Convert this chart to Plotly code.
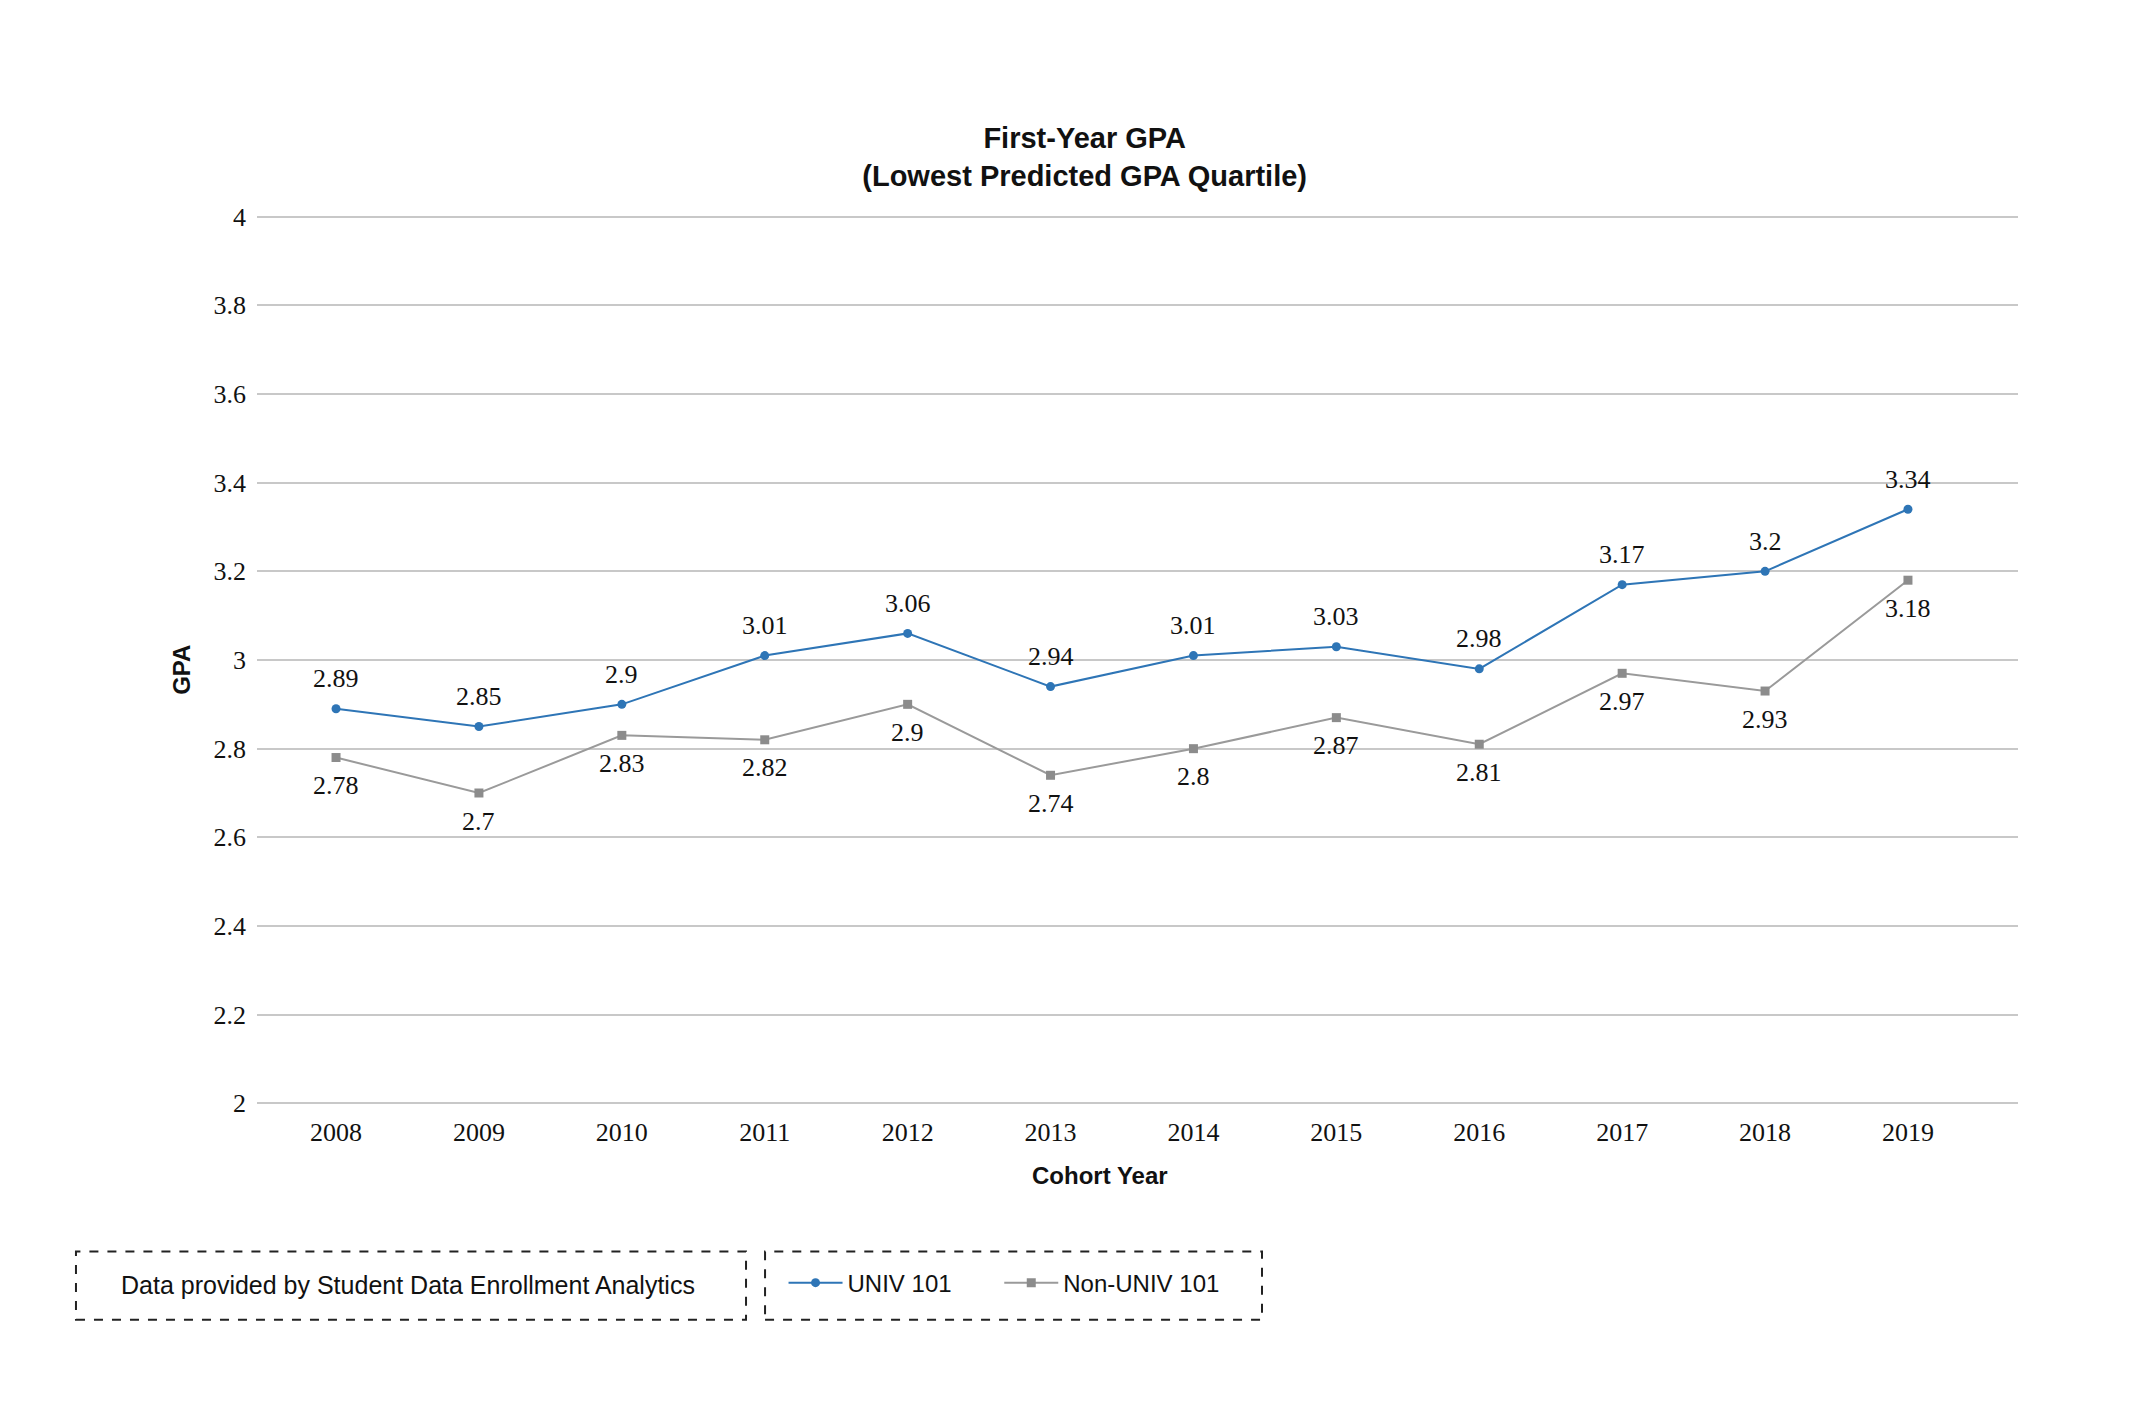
import plotly.graph_objects as go

years = ["2008", "2009", "2010", "2011", "2012", "2013", "2014", "2015", "2016", "2017", "2018", "2019"]
univ_101 = [2.89, 2.85, 2.9, 3.01, 3.06, 2.94, 3.01, 3.03, 2.98, 3.17, 3.2, 3.34]
non_univ_101 = [2.78, 2.7, 2.83, 2.82, 2.9, 2.74, 2.8, 2.87, 2.81, 2.97, 2.93, 3.18]
y_ticks = [2, 2.2, 2.4, 2.6, 2.8, 3, 3.2, 3.4, 3.6, 3.8, 4]

SERIF = "Georgia, 'Liberation Serif', serif"
SANS = "Arial, 'Liberation Sans', sans-serif"
BLUE = "#2E75B6"
GRAY = "#9A9A9A"
INK = "#111111"

W, H = 2117, 1407

fig = go.Figure()
fig.add_trace(go.Scatter(
    x=years, y=univ_101, name="UNIV 101", mode="lines+markers", legend="legend",
    line=dict(color=BLUE, width=2), marker=dict(symbol="circle", size=9, color=BLUE),
))
fig.add_trace(go.Scatter(
    x=years, y=non_univ_101, name="Non-UNIV 101", mode="lines+markers", legend="legend2",
    line=dict(color=GRAY, width=2), marker=dict(symbol="square", size=9, color="#8C8C8C"),
))

# data labels (category axis -> positions by category index)
for i, v in enumerate(univ_101):
    fig.add_annotation(x=i, y=v, text=f"{v:g}", showarrow=False, yshift=30,
                       xanchor="center", yanchor="middle",
                       font=dict(family=SERIF, size=26, color=INK))
for i, v in enumerate(non_univ_101):
    fig.add_annotation(x=i, y=v, text=f"{v:g}", showarrow=False, yshift=-28,
                       xanchor="center", yanchor="middle",
                       font=dict(family=SERIF, size=26, color=INK))

legend_style = dict(orientation="h", xref="paper", yref="paper", y=-0.1985,
                    xanchor="left", yanchor="middle", bgcolor="rgba(0,0,0,0)",
                    font=dict(family=SANS, size=24, color=INK), itemwidth=54)

fig.update_layout(
    width=W, height=H,
    margin=dict(l=249, r=107, t=206, b=309),
    paper_bgcolor="white", plot_bgcolor="white",
    title=dict(text="<b>First-Year GPA<br>(Lowest Predicted GPA Quartile)</b>",
               font=dict(family=SANS, size=29, color=INK),
               xref="paper", x=0.47, xanchor="center",
               yref="container", y=1 - 140 / H, yanchor="middle"),
    showlegend=True,
    legend=dict(x=0.2990, **legend_style),
    legend2=dict(x=0.4215, **legend_style),
    font=dict(family=SERIF, color=INK),
)
fig.update_xaxes(type="category", range=[-0.553, 11.77], showgrid=False, showline=False,
                 zeroline=False, ticks="", ticklabelstandoff=8,
                 tickfont=dict(family=SERIF, size=26, color=INK))
fig.update_yaxes(range=[1.994, 4.006], tickvals=y_ticks, showgrid=True, gridcolor="#C8C8C8",
                 gridwidth=2, showline=False, zeroline=False, ticks="", ticklabelstandoff=10,
                 tickfont=dict(family=SERIF, size=26, color=INK))

fig.add_annotation(text="<b>GPA</b>", xref="paper", yref="paper", x=-0.0426, y=0.489,
                   textangle=-90, showarrow=False, xanchor="center", yanchor="middle",
                   font=dict(family=SANS, size=24, color=INK))
fig.add_annotation(text="<b>Cohort Year</b>", xref="paper", yref="paper", x=0.4787, y=-0.0783,
                   showarrow=False, xanchor="center", yanchor="middle",
                   font=dict(family=SANS, size=24, color=INK))
fig.add_annotation(text="Data provided by Student Data Enrollment Analytics",
                   xref="paper", yref="paper", x=0.0857, y=-0.2008,
                   showarrow=False, xanchor="center", yanchor="middle",
                   font=dict(family=SANS, size=25, color=INK))

box = dict(type="rect", xref="paper", yref="paper",
           line=dict(color="#222222", width=2, dash="dash"), fillcolor="rgba(0,0,0,0)")
fig.add_shape(x0=-0.1028, x1=0.2777, y0=-0.2397, y1=-0.1631, **box)
fig.add_shape(x0=0.2885, x1=0.5707, y0=-0.2397, y1=-0.1631, **box)

fig.write_html("out.html")
